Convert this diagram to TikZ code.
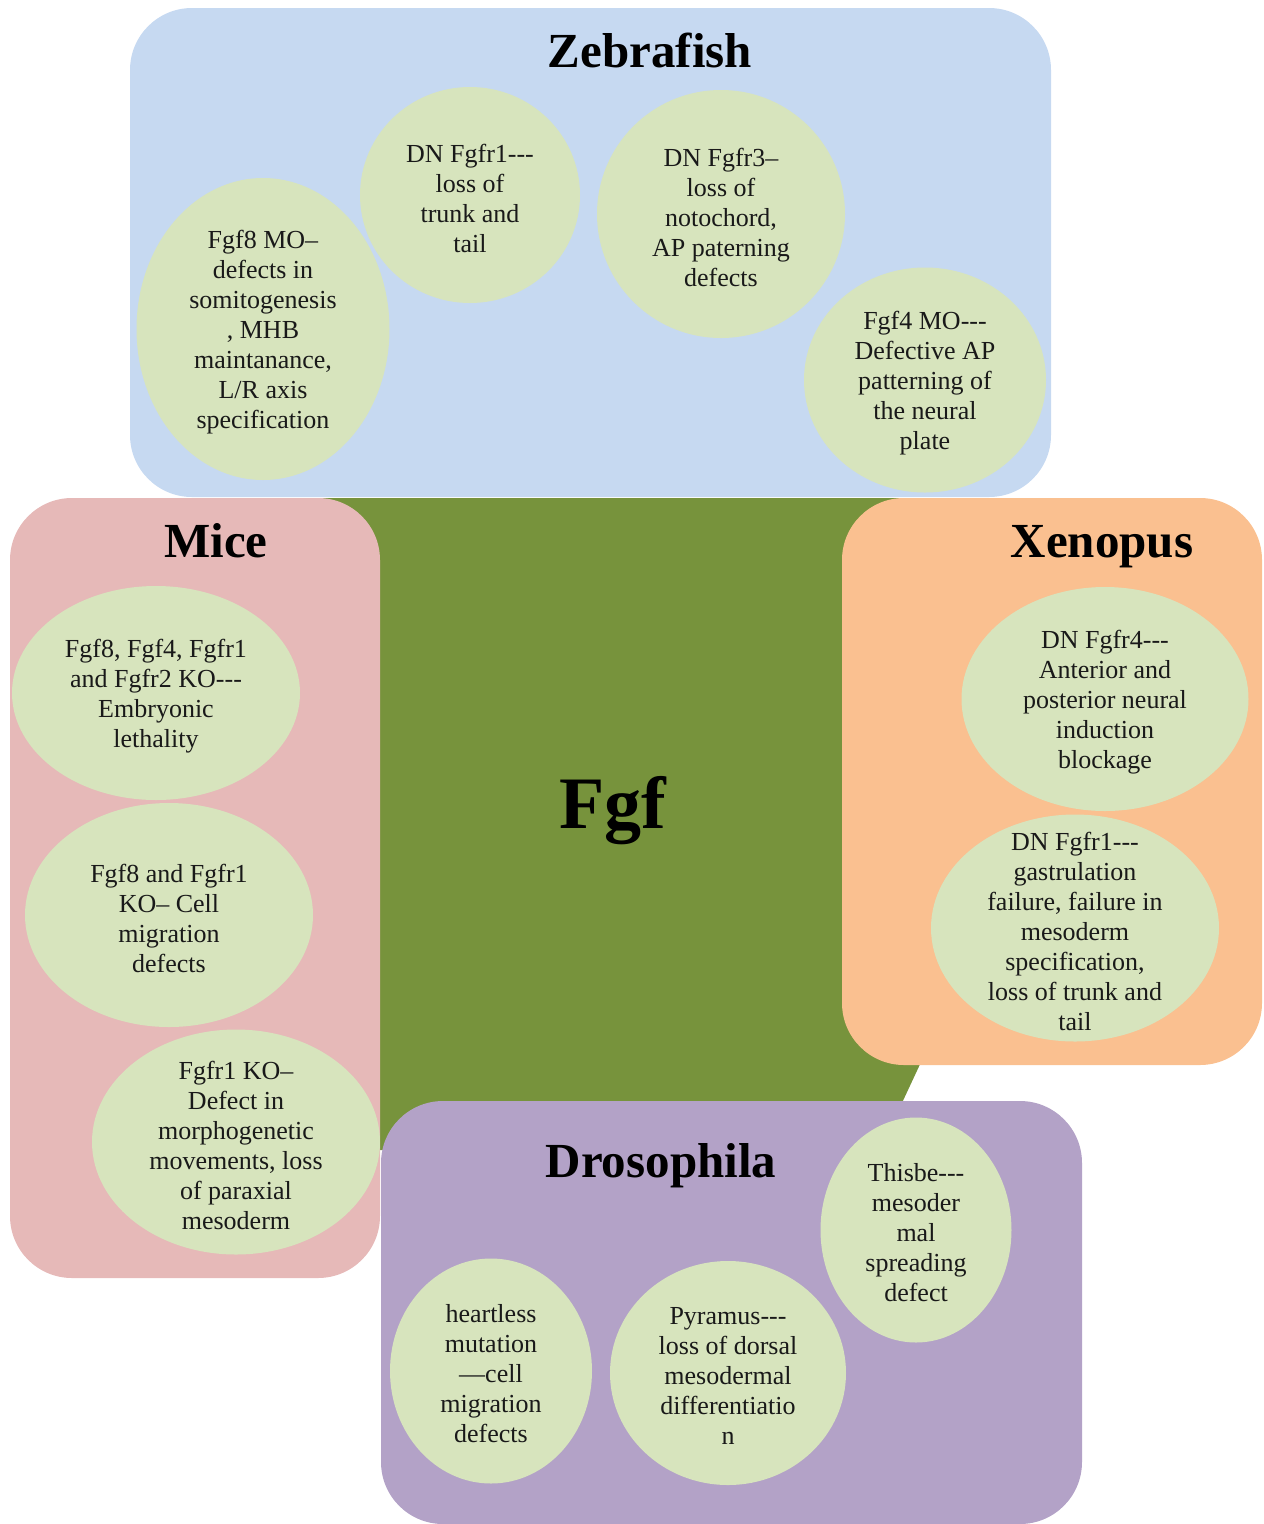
\documentclass[tikz,border=0pt]{standalone}
\usepackage{fontspec}
\setmainfont{Liberation Serif}
\usetikzlibrary{shapes.geometric}
\definecolor{zebrabg}{HTML}{C6D9F1}
\definecolor{micebg}{HTML}{E6B9B8}
\definecolor{xenobg}{HTML}{FAC090}
\definecolor{drosbg}{HTML}{B3A2C7}
\definecolor{fgfgreen}{HTML}{77933C}
\definecolor{ellfill}{HTML}{D7E4BD}
\newcommand\tdash{-\kern0pt-\kern0pt-}
\tikzset{
  panel/.style={fill=#1, draw=none, rounded corners=62pt},
  effect/.style={ellipse, fill=ellfill, draw=none, inner sep=0pt},
  efftext/.style={align=center, inner sep=0pt, yshift=-3pt,
    font=\fontsize{26}{30}\selectfont, text=black!90},
  title/.style={font=\fontsize{49}{56}\selectfont\bfseries, inner sep=0pt, anchor=base}
}
\begin{document}
\begin{tikzpicture}[x=1pt,y=-1pt]
\useasboundingbox (0,0) rectangle (1264,1524);
% central green shape
\fill[fgfgreen] (300,498) -- (950,498) -- (950,1000) -- (880,1150) -- (300,1150) -- cycle;
% panels
\fill[panel=zebrabg] (130,8) rectangle (1051,497);
\fill[panel=micebg] (10,498) rectangle (380,1278);
\fill[panel=xenobg] (842,498) rectangle (1262,1065);
\fill[panel=drosbg] (381,1101) rectangle (1082,1524);
% titles
\node[title] (tzebra) at (650,67) {Zebrafish};
\node[title] (tmice) at (216,557) {Mice};
\node[title] (txeno) at (1102,557) {Xenopus};
\node[title] (tdros) at (661,1177) {Drosophila};
\node[font=\fontsize{74}{80}\selectfont\bfseries, inner sep=0pt, anchor=base] (fgf) at (613,828) {Fgf};
% zebrafish
\node[effect, minimum width=253, minimum height=302] (z1) at (263,329) {};
\node[efftext] (z1t) at (z1) {Fgf8 MO–\\defects in\\somitogenesis\\, MHB\\maintanance,\\L/R axis\\specification};
\node[effect, minimum width=220, minimum height=216] (z2) at (470,195) {};
\node[efftext] (z2t) at (z2) {DN Fgfr1\tdash\\loss of\\trunk and\\tail};
\node[effect, minimum width=248, minimum height=248] (z3) at (721,214) {};
\node[efftext] (z3t) at (z3) {DN Fgfr3–\\loss of\\notochord,\\AP paterning\\defects};
\node[effect, minimum width=242, minimum height=225] (z4) at (925,380) {};
\node[efftext] (z4t) at (z4) {Fgf4 MO\tdash\\Defective AP\\patterning of\\the neural\\plate};
% mice
\node[effect, minimum width=288, minimum height=214] (m1) at (156,693) {};
\node[efftext] (m1t) at (m1) {Fgf8, Fgf4, Fgfr1\\and Fgfr2 KO\tdash\\Embryonic\\lethality};
\node[effect, minimum width=288, minimum height=224] (m2) at (169,915) {};
\node[efftext] (m2t) at (m2) {Fgf8 and Fgfr1\\KO– Cell\\migration\\defects};
\node[effect, minimum width=288, minimum height=225] (m3) at (236,1142) {};
\node[efftext] (m3t) at (m3) {Fgfr1 KO–\\Defect in\\morphogenetic\\movements, loss\\of paraxial\\mesoderm};
% xenopus
\node[effect, minimum width=287, minimum height=224] (x1) at (1105,699) {};
\node[efftext] (x1t) at (x1) {DN Fgfr4\tdash\\Anterior and\\posterior neural\\induction\\blockage};
\node[effect, minimum width=288, minimum height=227] (x2) at (1075,928) {};
\node[efftext] (x2t) at (x2) {DN Fgfr1\tdash\\gastrulation\\failure, failure in\\mesoderm\\specification,\\loss of trunk and\\tail};
% drosophila
\node[effect, minimum width=191, minimum height=225] (d1) at (916,1230) {};
\node[efftext] (d1t) at (d1) {Thisbe\tdash\\mesoder\\mal\\spreading\\defect};
\node[effect, minimum width=202, minimum height=225] (d2) at (491,1371) {};
\node[efftext] (d2t) at (d2) {heartless\\mutation\\—cell\\migration\\defects};
\node[effect, minimum width=236, minimum height=224] (d3) at (728,1373) {};
\node[efftext] (d3t) at (d3) {Pyramus\tdash\\loss of dorsal\\mesodermal\\differentiatio\\n};
\end{tikzpicture}
\end{document}
